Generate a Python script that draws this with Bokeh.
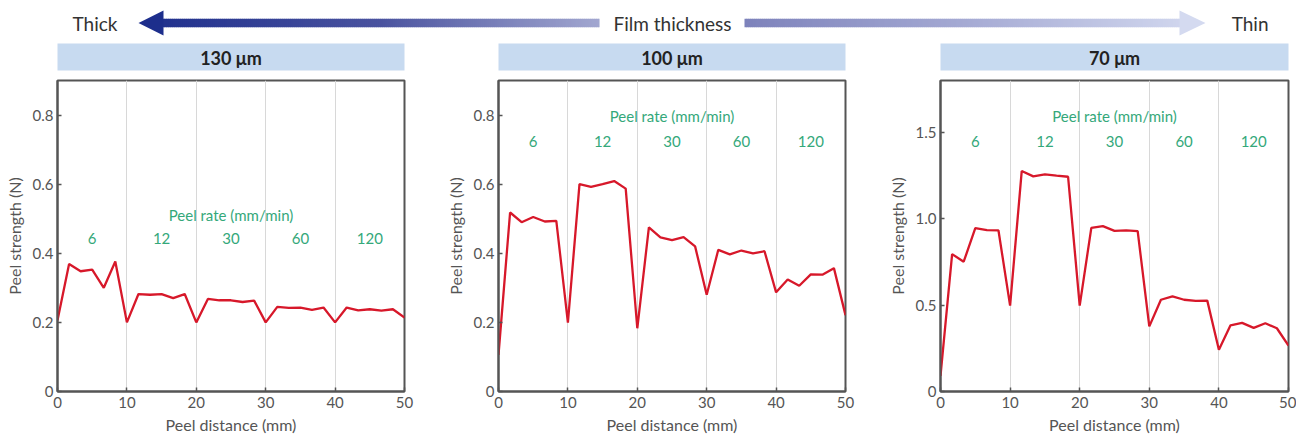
import numpy as np
from bokeh.plotting import figure
from bokeh.layouts import column, row
from bokeh.models import Range1d, FixedTicker
from bokeh.core.properties import value
from bokeh.embed import file_html
from bokeh.resources import INLINE

# ---------------- data ----------------
distance = [0, 1.67, 3.33, 5, 6.67, 8.33, 10, 11.67, 13.33, 15, 16.67, 18.33,
            20, 21.67, 23.33, 25, 26.67, 28.33, 30, 31.67, 33.33, 35, 36.67, 38.33,
            40, 41.67, 43.33, 45, 46.67, 48.33, 50]
strength_130 = [0.206, 0.369, 0.348, 0.353, 0.300, 0.376, 0.200, 0.282, 0.280, 0.282, 0.270, 0.282,
                0.200, 0.268, 0.264, 0.264, 0.259, 0.263, 0.200, 0.245, 0.242, 0.243, 0.236, 0.243,
                0.200, 0.243, 0.235, 0.238, 0.234, 0.238, 0.214]
strength_100 = [0.106, 0.518, 0.490, 0.505, 0.492, 0.494, 0.199, 0.600, 0.592, 0.600, 0.609, 0.587,
                0.183, 0.475, 0.446, 0.438, 0.447, 0.420, 0.280, 0.410, 0.397, 0.408, 0.400, 0.406,
                0.287, 0.324, 0.306, 0.339, 0.338, 0.357, 0.221]
strength_70 = [0.09, 0.795, 0.751, 0.945, 0.934, 0.932, 0.497, 1.276, 1.245, 1.257, 1.249, 1.243,
               0.497, 0.947, 0.957, 0.930, 0.932, 0.928, 0.377, 0.531, 0.551, 0.531, 0.524, 0.526,
               0.241, 0.383, 0.397, 0.368, 0.395, 0.366, 0.266]
thickness_labels = ["130 μm", "100 μm", "70 μm"]
peel_rates = ["6", "12", "30", "60", "120"]
segment_edges = [0, 10, 20, 30, 40, 50]
x_ticks = [0, 10, 20, 30, 40, 50]
y_ticks_a = [0, 0.2, 0.4, 0.6, 0.8]
y_tick_labels_a = ["0", "0.2", "0.4", "0.6", "0.8"]
y_ticks_b = [0, 0.5, 1.0, 1.5]
y_tick_labels_b = ["0", "0.5", "1.0", "1.5"]

# ---------------- style / layout ----------------
FONT = "Lato"
RED = "#d7182a"
GREEN = "#34a87a"
AX = "#555555"
TXT = "#555555"
BAR = "#c7daf0"

HDR_H = 78
PANEL_H = 358
# (figure width, left border, right border) per panel -> frames at 57-404, 498-845, 940-1288
PANELS = [(441, 57, 37), (441, 57, 37), (414, 58, 8)]

centers = [(a + b) / 2 for a, b in zip(segment_edges[:-1], segment_edges[1:])]


def panel(ys, ymax, ticks, tick_labels, label_y, nums_y, geom):
    w, lb, rb = geom
    p = figure(width=w, height=PANEL_H, x_range=Range1d(0, 50), y_range=Range1d(0, ymax),
               output_backend="svg", toolbar_location=None,
               min_border_left=lb, min_border_right=rb,
               min_border_top=2, min_border_bottom=44)
    p.outline_line_color = AX
    p.outline_line_width = 2
    p.background_fill_color = "white"
    p.border_fill_color = "white"
    p.ygrid.visible = False
    p.xgrid.ticker = FixedTicker(ticks=[10, 20, 30, 40])
    p.xgrid.grid_line_color = "#d8d8d8"
    p.xgrid.grid_line_width = 1
    p.xaxis.ticker = FixedTicker(ticks=x_ticks)
    p.yaxis.ticker = FixedTicker(ticks=ticks)
    p.yaxis.major_label_overrides = {t: l for t, l in zip(ticks, tick_labels)}
    p.xaxis.major_label_overrides = {t: str(t) for t in x_ticks}
    for ax in (p.xaxis, p.yaxis):
        ax.axis_line_color = AX
        ax.axis_line_width = 2
        ax.major_tick_in = 4
        ax.major_tick_out = 0
        ax.major_tick_line_color = AX
        ax.major_tick_line_width = 1.5
        ax.minor_tick_line_color = None
        ax.major_label_text_font = FONT
        ax.major_label_text_font_size = "15px"
        ax.major_label_text_color = TXT
        ax.axis_label_text_font = FONT
        ax.axis_label_text_font_size = "16px"
        ax.axis_label_text_font_style = "normal"
        ax.axis_label_text_color = TXT
    p.xaxis.axis_label = "Peel distance (mm)"
    p.yaxis.axis_label = "Peel strength (N)"
    p.xaxis.major_label_standoff = 5
    p.xaxis.axis_label_standoff = 4
    p.yaxis.major_label_standoff = 4
    p.yaxis.axis_label_standoff = 6

    p.line(distance, ys, line_color=RED, line_width=2.3)
    p.text(x=[25], y=[label_y], text=["Peel rate (mm/min)"], text_align="center",
           text_baseline="middle", text_font=value(FONT), text_font_size="15px",
           text_color=GREEN)
    p.text(x=centers, y=[nums_y] * len(centers), text=peel_rates, text_align="center",
           text_baseline="middle", text_font=value(FONT), text_font_size="15px",
           text_color=GREEN)
    return p


p1 = panel(strength_130, 0.9, y_ticks_a, y_tick_labels_a, 0.511, 0.443, PANELS[0])
p2 = panel(strength_100, 0.9, y_ticks_a, y_tick_labels_a, 0.796, 0.724, PANELS[1])
p3 = panel(strength_70, 1.8, y_ticks_b, y_tick_labels_b, 1.592, 1.447, PANELS[2])

# ---------------- header ----------------
TOTAL_W = sum(g[0] for g in PANELS)
hdr = figure(width=TOTAL_W, height=HDR_H, x_range=Range1d(0, TOTAL_W), y_range=Range1d(HDR_H, 0),
             output_backend="svg", toolbar_location=None, min_border=0,
             outline_line_color=None, x_axis_type=None, y_axis_type=None)
hdr.grid.visible = False
hdr.background_fill_color = "white"
hdr.border_fill_color = "white"

tip_l, base_l, base_r, tip_r = 138, 163, 1179, 1205
gap_l, gap_r = 599, 743
cy = 22.5

# colour stops (x, rgb) of the two gradient halves of the arrow
left_stops = [(138, (0x1d, 0x2e, 0x8c)), (380, (0x4a, 0x53, 0x9f)), (599, (0xa2, 0xa7, 0xd0))]
right_stops = [(743, (0x7d, 0x82, 0xbb)), (970, (0xa6, 0xab, 0xd4)), (1205, (0xd4, 0xda, 0xf0))]


def col(xv, stops):
    xs_ = [s[0] for s in stops]
    rgb = [int(round(np.interp(xv, xs_, [s[1][k] for s in stops]))) for k in range(3)]
    return "#%02x%02x%02x" % tuple(rgb)


step = 2
lefts, rights, colors = [], [], []
for xv in np.arange(base_l - 1, base_r + 1, step):
    if gap_l <= xv < gap_r:
        continue
    stops = left_stops if xv < gap_l else right_stops
    lefts.append(float(xv))
    rights.append(float(min(xv + step + 0.6, gap_l if xv < gap_l else base_r + 1)))
    colors.append(col(xv + step / 2, stops))
hdr.quad(left=lefts, right=rights, top=[cy - 4.2] * len(lefts), bottom=[cy + 4.2] * len(lefts),
         fill_color=colors, line_color=None)
hdr.patch([tip_l, base_l, base_l], [cy, cy - 12.5, cy + 12.5],
          fill_color=col(tip_l, left_stops), line_color=None)
hdr.patch([base_r, tip_r, base_r], [cy - 12.5, cy, cy + 12.5],
          fill_color=col(tip_r, right_stops), line_color=None)

hdr.text(x=[72], y=[cy], text=["Thick"], text_align="left", text_baseline="middle",
         text_font=value(FONT), text_font_size="19px", text_color="#333333")
hdr.text(x=[(gap_l + gap_r) / 2 + 1], y=[cy], text=["Film thickness"], text_align="center",
         text_baseline="middle", text_font=value(FONT), text_font_size="19px", text_color="#333333")
hdr.text(x=[1268], y=[cy], text=["Thin"], text_align="right", text_baseline="middle",
         text_font=value(FONT), text_font_size="19px", text_color="#333333")

bar_left, bar_right = [], []
x0 = 0
for w, lb, rb in PANELS:
    bar_left.append(x0 + lb)
    bar_right.append(x0 + w - rb)
    x0 += w
hdr.quad(left=bar_left, right=bar_right, top=[43] * 3, bottom=[70] * 3,
         fill_color=BAR, line_color=None)
hdr.text(x=[(a + b) / 2 for a, b in zip(bar_left, bar_right)], y=[57] * 3, text=thickness_labels,
         text_align="center", text_baseline="middle", text_font=value(FONT),
         text_font_size="18px", text_font_style="bold", text_color="#222222")

layout = column(hdr, row(p1, p2, p3, spacing=0), spacing=0)
open("out.html", "w").write(file_html(layout, INLINE))
